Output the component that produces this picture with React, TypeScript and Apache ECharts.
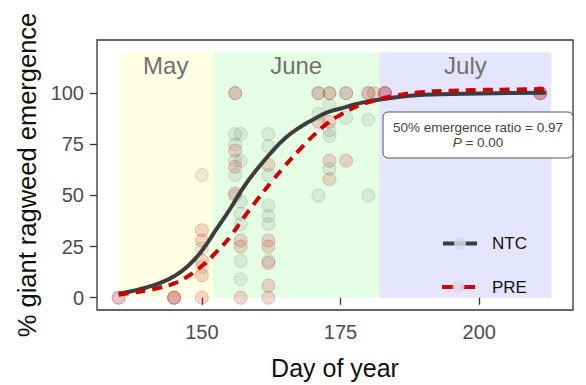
import React, { useEffect, useRef } from "react";
import * as echarts from "echarts";

const monthNames = ["May", "June", "July"];
const monthStart = [135, 152, 182];
const monthEnd = [152, 182, 213];
const monthTop = 120;

const xTicks = [150, 175, 200];
const yTicks = [0, 25, 50, 75, 100];

const ntcPoints: [number, number][] = [
  [135, 0], [145, 0],
  [150, 60], [150, 24], [150, 15],
  [156, 100], [156, 80], [156, 75], [156, 67], [156, 60], [156, 50],
  [157, 80], [157, 67], [157, 47], [157, 41], [157, 36], [157, 18], [157, 9],
  [162, 80], [162, 74], [162, 60], [162, 45], [162, 40], [162, 36], [162, 18],
  [171, 100], [171, 90], [171, 50],
  [173, 100], [173, 94], [173, 82], [173, 79], [173, 63],
  [176, 100], [176, 88],
  [180, 100], [180, 87], [180, 50],
  [183, 100], [211, 100],
];

const prePoints: [number, number][] = [
  [135, 0], [145, 0], [145, 0],
  [150, 33], [150, 28], [150, 18], [150, 11], [150, 0],
  [156, 100], [156, 72], [156, 64], [156, 51],
  [157, 28], [157, 25], [157, 0],
  [162, 65], [162, 28], [162, 25], [162, 17], [162, 6], [162, 0],
  [171, 100], [171, 86],
  [173, 100], [173, 86], [173, 67], [173, 58],
  [176, 100], [176, 67],
  [180, 100], [181, 100], [183, 100], [183, 100],
  [211, 100], [211, 100],
];

const curveDays = [135, 137.5, 140, 142.5, 145, 147.5, 150, 152.5, 155, 157.5, 160, 162.5, 165, 167.5, 170, 172.5, 175, 177.5, 180, 185, 190, 195, 200, 206, 212];
const ntcCurve = [2, 3.3, 5, 7.3, 10.5, 15.5, 23, 33, 43, 54, 63, 71, 78, 83, 87, 90.5, 92.5, 94.5, 96, 98, 99.2, 99.6, 99.9, 100.1, 100.2];
const preCurve = [1.5, 2.4, 3.5, 5, 7, 10.5, 15.5, 22, 29.5, 39, 48, 56.5, 64.5, 72, 79, 85, 89.5, 93, 95.5, 98.8, 100.6, 101.2, 101.6, 101.8, 102];

const annotationLine1 = "50% emergence ratio = 0.97";
const annotationP = "0.00";

const FONT = "'Liberation Sans', Arial, sans-serif";
const monthColors = ["rgba(255,255,0,0.11)", "rgba(0,255,0,0.1)", "rgba(0,0,255,0.1)"];

export default function App() {
  const ref = useRef<HTMLDivElement>(null);
  useEffect(() => {
    if (!ref.current) return;
    const chart = echarts.init(ref.current, undefined, { renderer: "svg" });
    const areas = monthNames.map((n, i) => [
      { name: n, xAxis: monthStart[i], yAxis: 0, itemStyle: { color: monthColors[i] } },
      { xAxis: monthEnd[i], yAxis: monthTop },
    ]);
    chart.setOption({
      animation: false,
      textStyle: { fontFamily: FONT },
      grid: {
        left: 97, right: 13, top: 40, bottom: 73,
        show: true, borderColor: "#333", borderWidth: 1.3, backgroundColor: "#fff",
      },
      xAxis: {
        type: "value", min: 131.1, max: 216.9,
        axisLine: { show: false },
        splitLine: { show: false },
        axisTick: { show: true, customValues: xTicks, length: 7, lineStyle: { color: "#333", width: 1.3 } },
        axisLabel: { customValues: xTicks, fontSize: 20, color: "#4d4d4d", margin: 12, fontFamily: FONT },
        name: "Day of year", nameLocation: "middle", nameGap: 45,
        nameTextStyle: { fontSize: 25, color: "#111", fontFamily: FONT },
      },
      yAxis: {
        type: "value", min: -6, max: 126,
        axisLine: { show: false },
        splitLine: { show: false },
        axisTick: { show: true, customValues: yTicks, length: 7, lineStyle: { color: "#333", width: 1.3 } },
        axisLabel: { customValues: yTicks, fontSize: 20, color: "#4d4d4d", margin: 13, fontFamily: FONT },
        name: "% giant ragweed emergence", nameLocation: "middle", nameGap: 55,
        nameTextStyle: { fontSize: 25.5, color: "#111", fontFamily: FONT },
      },
      series: [
        {
          type: "line", name: "months", data: [], silent: true,
          markArea: {
            silent: true,
            label: { show: true, position: "insideTop", distance: 1, fontSize: 24, color: "#707070", fontFamily: FONT },
            data: areas,
          },
        },
        {
          type: "scatter", name: "NTC points", data: ntcPoints, symbolSize: 13,
          itemStyle: { color: "rgba(110,110,110,0.17)", borderColor: "rgba(90,90,90,0.24)", borderWidth: 1 },
        },
        {
          type: "scatter", name: "PRE points", data: prePoints, symbolSize: 13,
          itemStyle: { color: "rgba(200,40,40,0.24)", borderColor: "rgba(170,30,30,0.3)", borderWidth: 1 },
        },
        {
          type: "line", name: "NTC", data: curveDays.map((d, i) => [d, ntcCurve[i]]),
          smooth: true, showSymbol: false,
          lineStyle: { color: "#3d3d3d", width: 4 },
        },
        {
          type: "line", name: "PRE", data: curveDays.map((d, i) => [d, preCurve[i]]),
          smooth: true, showSymbol: false,
          lineStyle: { color: "#cc0000", width: 4, type: [10, 7] },
        },
      ],
      graphic: [
        { type: "line", shape: { x1: 443, y1: 243.5, x2: 477, y2: 243.5 }, style: { stroke: "#3d3d3d", lineWidth: 4 }, z: 100 },
        { type: "circle", shape: { cx: 460, cy: 243.5, r: 6 }, style: { fill: "rgba(215,215,230,0.85)" }, z: 101 },
        { type: "text", x: 492, y: 243.5, style: { text: "NTC", fontSize: 17, fill: "#111", fontFamily: FONT, verticalAlign: "middle" }, z: 101 },
        { type: "line", shape: { x1: 442, y1: 287, x2: 455, y2: 287 }, style: { stroke: "#cc0000", lineWidth: 4 }, z: 100 },
        { type: "line", shape: { x1: 462, y1: 287, x2: 475, y2: 287 }, style: { stroke: "#cc0000", lineWidth: 4 }, z: 100 },
        { type: "circle", shape: { cx: 458.5, cy: 287, r: 6 }, style: { fill: "rgba(225,215,235,0.85)" }, z: 101 },
        { type: "text", x: 492, y: 287, style: { text: "PRE", fontSize: 17, fill: "#111", fontFamily: FONT, verticalAlign: "middle" }, z: 101 },
        { type: "rect", shape: { x: 383, y: 112, width: 190, height: 46, r: 5 }, style: { fill: "#fff", stroke: "#555", lineWidth: 1 }, z: 100 },
        { type: "text", x: 478, y: 127, style: { text: annotationLine1, fontSize: 13.5, fill: "#444", fontFamily: FONT, align: "center", verticalAlign: "middle" }, z: 101 },
        {
          type: "text", x: 478, y: 142,
          style: {
            text: "{i|P} = " + annotationP, fontSize: 13.5, fill: "#444", fontFamily: FONT, align: "center", verticalAlign: "middle",
            rich: { i: { fontStyle: "italic", fontSize: 13.5, fill: "#444", fontFamily: FONT } },
          },
          z: 101,
        },
      ],
    });
    return () => chart.dispose();
  }, []);
  return <div ref={ref} style={{ width: 586, height: 385, position: "absolute", left: 0, top: 0 }} />;
}
